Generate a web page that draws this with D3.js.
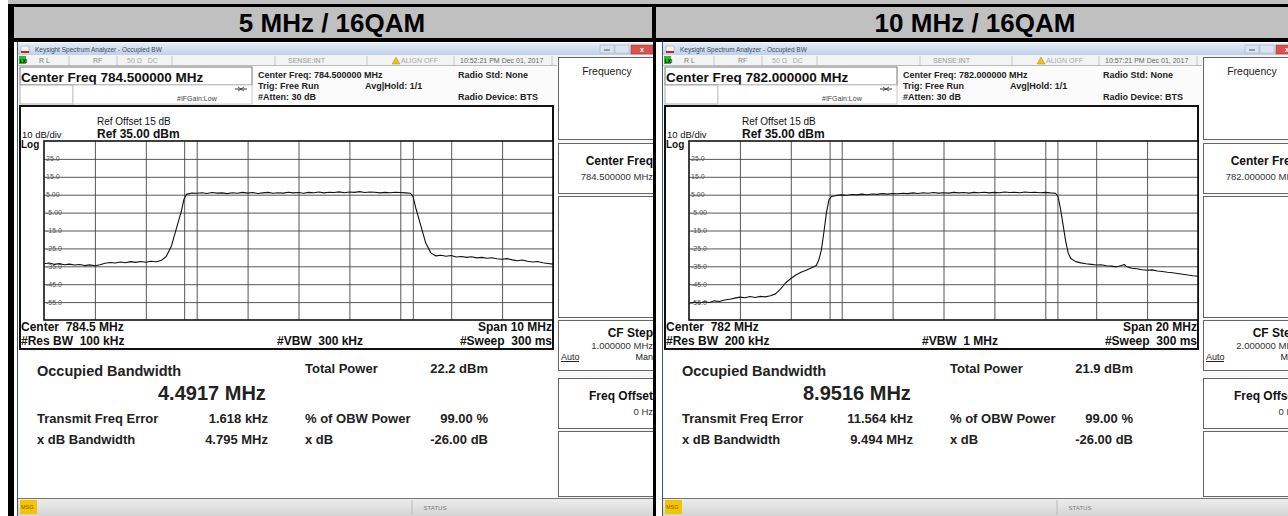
<!DOCTYPE html>
<html lang="en">
<head>
<meta charset="utf-8">
<title>Occupied BW - 16QAM</title>
<script src="https://d3js.org/d3.v7.min.js"></script>
<style>
  body { margin: 0; background: #fff; }
  svg { display: block; }
  svg text { white-space: pre; }
</style>
</head>
<body>
<script>
const panelTitles = ["5 MHz / 16QAM", "10 MHz / 16QAM"];
const centerFreqMHz = [784.5, 782.0];
const spanMHz = [10, 20];
const obwMHz = [4.4917, 8.9516];
const resBw = ["100 kHz", "200 kHz"];
const vbw = ["300 kHz", "1 MHz"];
const cfStep = ["1.000000 MHz", "2.000000 MHz"];
const totalPower = ["22.2 dBm", "21.9 dBm"];
const freqError = ["1.618 kHz", "11.564 kHz"];
const xdbBandwidth = ["4.795 MHz", "9.494 MHz"];
const timestamps = ["10:52:21 PM Dec 01, 2017", "10:57:21 PM Dec 01, 2017"];

const refLevel = 35, dbPerDiv = 10;
const yTicks = [25, 15, 5, -5, -15, -25, -35, -45, -55];
const yTickLabels = ["25.0", "15.0", "5.00", "-5.00", "-15.0", "-25.0", "-35.0", "-45.0", "-55.0"];

// 5 MHz trace (MHz, dBm)
const traceFreq5 = [779.5, 779.6, 779.7, 779.8, 779.9, 780.0, 780.1, 780.2, 780.3, 780.4, 780.5, 780.6, 780.7, 780.8, 780.9,
  781.0, 781.1, 781.2, 781.3, 781.4, 781.5, 781.6, 781.7, 781.8, 781.9, 782.0, 782.1, 782.2, 782.25, 782.3, 782.4,
  782.5, 782.6, 782.7, 782.8, 782.9, 783.0, 783.1, 783.2, 783.3, 783.4, 783.5, 783.6, 783.7, 783.8, 783.9,
  784.0, 784.1, 784.2, 784.3, 784.4, 784.5, 784.6, 784.7, 784.8, 784.9, 785.0, 785.1, 785.2, 785.3, 785.4,
  785.5, 785.6, 785.7, 785.8, 785.9, 786.0, 786.1, 786.2, 786.3, 786.4, 786.5, 786.6, 786.7, 786.75, 786.8,
  786.9, 787.0, 787.1, 787.2, 787.3, 787.4, 787.5, 787.6, 787.7, 787.8, 787.9, 788.0, 788.1, 788.2, 788.3,
  788.4, 788.5, 788.6, 788.7, 788.8, 788.9, 789.0, 789.1, 789.2, 789.3, 789.4, 789.5];
const traceLevel5 = [-33.6, -33.2, -33.9, -33.5, -34.1, -33.8, -34.3, -34.0, -34.6, -34.2, -34.7, -34.1, -33.3, -32.9, -33.2,
  -32.6, -33.0, -32.4, -32.8, -32.3, -32.7, -32.2, -32.5, -31.8, -29.5, -24.0, -14.0, -4.0, 2.5, 5.2, 5.9,
  5.8, 6.1, 5.7, 6.2, 5.9, 6.0, 5.6, 6.1, 5.8, 6.3, 5.9, 6.2, 5.7, 6.0, 6.3,
  5.8, 6.1, 5.9, 6.4, 6.0, 6.2, 5.8, 6.3, 6.1, 6.5, 6.0, 6.4, 6.2, 6.6, 6.1,
  6.5, 6.3, 6.7, 6.2, 6.5, 6.4, 6.0, 6.3, 6.1, 6.4, 6.2, 6.0, 5.8, 4.0, -2.0,
  -12.0, -22.0, -27.5, -29.2, -28.8, -29.4, -29.0, -29.8, -29.5, -30.0, -29.7, -30.3, -30.0, -30.5, -30.2,
  -30.8, -31.1, -30.7, -31.4, -31.9, -31.5, -32.2, -32.6, -32.3, -33.0, -33.4, -33.8];

// 10 MHz trace (MHz, dBm)
const traceFreq10 = [772.0, 772.2, 772.4, 772.6, 772.8, 773.0, 773.2, 773.4, 773.6, 773.8, 774.0, 774.2, 774.4, 774.6, 774.8,
  775.0, 775.2, 775.4, 775.6, 775.8, 776.0, 776.2, 776.4, 776.6, 776.8, 777.0, 777.1, 777.2, 777.3, 777.4, 777.5, 777.6,
  777.8, 778.0, 778.2, 778.4, 778.6, 778.8, 779.0, 779.2, 779.4, 779.6, 779.8, 780.0, 780.2, 780.4, 780.6, 780.8,
  781.0, 781.2, 781.4, 781.6, 781.8, 782.0, 782.2, 782.4, 782.6, 782.8, 783.0, 783.2, 783.4, 783.6, 783.8,
  784.0, 784.2, 784.4, 784.6, 784.8, 785.0, 785.2, 785.4, 785.6, 785.8, 786.0, 786.2, 786.4, 786.5, 786.6, 786.7,
  786.8, 786.9, 787.0, 787.2, 787.4, 787.6, 787.8, 788.0, 788.2, 788.4, 788.6, 788.8, 789.0, 789.1, 789.2, 789.4,
  789.6, 789.8, 790.0, 790.2, 790.4, 790.6, 790.8, 791.0, 791.2, 791.4, 791.6, 791.8, 792.0];
const traceLevel10 = [-55.6, -55.1, -55.5, -54.8, -55.2, -54.3, -54.7, -53.8, -53.4, -52.8, -52.2, -52.6, -51.9, -52.4, -51.8,
  -52.1, -51.5, -50.4, -47.6, -44.2, -41.8, -39.9, -38.3, -37.2, -36.0, -34.6, -31.5, -26.0, -16.0, -5.0, 2.2, 4.0,
  4.6, 4.9, 4.7, 5.1, 4.9, 5.3, 5.0, 5.4, 5.2, 5.6, 5.3, 5.7, 5.5, 5.8, 5.6, 6.0,
  5.7, 6.1, 5.8, 6.2, 5.9, 6.1, 5.9, 6.3, 6.0, 6.2, 5.9, 6.3, 6.1, 6.4, 6.0,
  6.3, 6.1, 6.5, 6.2, 6.4, 6.1, 6.5, 6.2, 6.4, 6.1, 6.3, 6.0, 5.8, 4.0, -3.0, -12.0,
  -21.0, -27.5, -30.6, -32.4, -33.1, -33.6, -33.9, -34.3, -34.1, -34.7, -34.9, -35.3, -34.6, -34.0, -35.2, -36.1,
  -36.4, -36.9, -37.2, -37.0, -37.6, -37.9, -38.3, -38.6, -39.0, -39.4, -39.9, -40.3, -40.6];

const traceFreqs = [traceFreq5, traceFreq10];
const traceLevels = [traceLevel5, traceLevel10];

// ---- layout ----
const W = 1288, H = 516;
const FONT = "'Liberation Sans', Arial, sans-serif";
const panelX = [17, 662];
const panelW = 636;
const grid = {left: 27, right: 536, top: 141, bottom: 320};

const svg = d3.select("body").append("svg")
    .attr("width", W)
    .attr("height", H)
    .attr("xml:space", "preserve")
    .style("font-family", FONT);

svg.append("rect").attr("width", W).attr("height", H).attr("fill", "#fff");

const defs = svg.append("defs");
const tb = defs.append("linearGradient").attr("id", "titlebar").attr("x1", 0).attr("x2", 0).attr("y1", 0).attr("y2", 1);
tb.append("stop").attr("offset", 0).attr("stop-color", "#e4edf8");
tb.append("stop").attr("offset", 1).attr("stop-color", "#bfd1e8");
const sb = defs.append("linearGradient").attr("id", "statusbar").attr("x1", 0).attr("x2", 0).attr("y1", 0).attr("y2", 1);
sb.append("stop").attr("offset", 0).attr("stop-color", "#eeeeee");
sb.append("stop").attr("offset", 1).attr("stop-color", "#d4d4d4");

// table frame
svg.append("rect").attr("x", 8).attr("y", 0).attr("width", W - 8).attr("height", 40).attr("fill", "#c0c0c0");
svg.append("rect").attr("x", 8).attr("y", 4).attr("width", W - 8).attr("height", 3).attr("fill", "#000");
svg.append("rect").attr("x", 8).attr("y", 38).attr("width", W - 8).attr("height", 4).attr("fill", "#000");
svg.append("rect").attr("x", 8).attr("y", 4).attr("width", 6).attr("height", H - 4).attr("fill", "#000");
svg.append("rect").attr("x", 652).attr("y", 4).attr("width", 4).attr("height", H - 4).attr("fill", "#000");

svg.selectAll("text.head")
  .data(panelTitles)
  .enter().append("text")
    .attr("class", "head")
    .attr("x", (d, i) => [332, 975][i])
    .attr("y", 32)
    .attr("text-anchor", "middle")
    .attr("font-size", 26)
    .attr("font-weight", "bold")
    .attr("fill", "#000")
    .text(d => d);

function txt(g, x, y, s, size, opt) {
  opt = opt || {};
  return g.append("text")
    .attr("x", x).attr("y", y)
    .attr("font-size", size)
    .attr("font-weight", opt.bold ? "bold" : "normal")
    .attr("text-anchor", opt.anchor || "start")
    .attr("fill", opt.fill || "#111")
    .text(s);
}

function drawPanel(i) {
  const cf = centerFreqMHz[i], span = spanMHz[i];
  const fmtCf = d3.format(".6f");

  defs.append("clipPath").attr("id", "clip" + i)
    .append("rect").attr("x", 0).attr("y", 42).attr("width", panelW).attr("height", H - 42);

  const g = svg.append("g")
      .attr("transform", "translate(" + panelX[i] + ",0)")
      .attr("clip-path", "url(#clip" + i + ")");

  g.append("rect").attr("x", 0).attr("y", 42).attr("width", panelW).attr("height", H - 42).attr("fill", "#fbfbfb");
  g.append("line").attr("x1", 0.5).attr("x2", 0.5).attr("y1", 42).attr("y2", H).attr("stroke", "#3d5475").attr("stroke-width", 1);

  // window title bar
  g.append("rect").attr("x", 1).attr("y", 43).attr("width", panelW).attr("height", 12).attr("fill", "url(#titlebar)");
  g.append("rect").attr("x", 4).attr("y", 46).attr("width", 8).attr("height", 6).attr("fill", "#f4f4f4").attr("stroke", "#999").attr("stroke-width", 0.5);
  g.append("rect").attr("x", 4).attr("y", 51).attr("width", 8).attr("height", 2).attr("fill", "#d02020");
  txt(g, 18, 52, "Keysight Spectrum Analyzer - Occupied BW", 6.5, {fill: "#3a4a60"});
  g.append("rect").attr("x", 583).attr("y", 45).attr("width", 14).attr("height", 8).attr("fill", "#dbe5f2").attr("stroke", "#9aaac0").attr("stroke-width", 0.5);
  g.append("rect").attr("x", 598).attr("y", 45).attr("width", 14).attr("height", 8).attr("fill", "#dbe5f2").attr("stroke", "#9aaac0").attr("stroke-width", 0.5);
  g.append("rect").attr("x", 614).attr("y", 45).attr("width", 22).attr("height", 9).attr("fill", "#d9534a").attr("stroke", "#a03028").attr("stroke-width", 0.5);
  txt(g, 625, 52, "x", 7, {anchor: "middle", fill: "#fff", bold: true});
  g.append("line").attr("x1", 587).attr("x2", 593).attr("y1", 50).attr("y2", 50).attr("stroke", "#555");

  // status row
  g.append("rect").attr("x", 1).attr("y", 55).attr("width", panelW).attr("height", 10).attr("fill", "#f3f3f3");
  g.append("rect").attr("x", 2).attr("y", 56).attr("width", 7).attr("height", 8).attr("fill", "#22c022");
  txt(g, 3, 63, "LXI", 4.5, {fill: "#000", bold: true});
  [52, 100, 155, 258, 350, 437, 535].forEach(function(sx) {
    g.append("line").attr("x1", sx).attr("x2", sx).attr("y1", 56).attr("y2", 65).attr("stroke", "#c8c8c8");
  });
  txt(g, 22, 63, "R L", 7, {fill: "#777"});
  txt(g, 76, 63, "RF", 7, {fill: "#888"});
  txt(g, 110, 63, "50 \u03A9   DC", 7, {fill: "#aaa"});
  txt(g, 271, 63, "SENSE:INT", 7, {fill: "#999"});
  g.append("path").attr("d", "M375,64 L379,57 L383,64 Z").attr("fill", "#e8c020").attr("stroke", "#a08000").attr("stroke-width", 0.4);
  txt(g, 384, 63, "ALIGN OFF", 7, {fill: "#aaa"});
  txt(g, 443, 63, timestamps[i], 7, {fill: "#666"});
  g.append("line").attr("x1", 1).attr("x2", 540).attr("y1", 65.5).attr("y2", 65.5).attr("stroke", "#bbb");

  // top settings block
  g.append("rect").attr("x", 3).attr("y", 67).attr("width", 232).attr("height", 18).attr("fill", "#fff").attr("stroke", "#777");
  txt(g, 4, 82, "Center Freq " + fmtCf(cf) + " MHz", 13.5, {bold: true, fill: "#111"});
  g.append("rect").attr("x", 3).attr("y", 85).attr("width", 53).attr("height", 19).attr("fill", "#fff").attr("stroke", "#aaa");
  g.append("rect").attr("x", 56).attr("y", 85).attr("width", 179).attr("height", 19).attr("fill", "#fff").attr("stroke", "#ccc");
  txt(g, 160, 101, "#IFGain:Low", 7, {fill: "#444"});
  g.append("line").attr("x1", 218).attr("x2", 230).attr("y1", 89).attr("y2", 89).attr("stroke", "#333");
  g.append("path").attr("d", "M221,87 L224,89 L221,91 M227,87 L224,89 L227,91").attr("fill", "none").attr("stroke", "#333").attr("stroke-width", 0.8);
  txt(g, 241, 78, "Center Freq: " + fmtCf(cf) + " MHz", 9, {bold: true, fill: "#222"});
  txt(g, 241, 89, "Trig: Free Run", 9, {bold: true, fill: "#222"});
  txt(g, 348, 89, "Avg|Hold: 1/1", 9, {bold: true, fill: "#222"});
  txt(g, 241, 100, "#Atten: 30 dB", 9, {bold: true, fill: "#222"});
  txt(g, 441, 78, "Radio Std: None", 9, {bold: true, fill: "#222"});
  txt(g, 441, 100, "Radio Device: BTS", 9, {bold: true, fill: "#222"});

  // soft key panel
  g.append("rect").attr("x", 541).attr("y", 57).attr("width", 100).attr("height", 441).attr("fill", "#f7f7f7");
  const keys = [[57, 139], [143, 193], [196, 317], [320, 370], [378, 428], [431, 496]];
  keys.forEach(function(k) {
    g.append("rect").attr("x", 541.5).attr("y", k[0] + 0.5).attr("width", 100).attr("height", k[1] - k[0])
      .attr("fill", "#fff").attr("stroke", "#666").attr("stroke-width", 1);
  });
  txt(g, 590, 75, "Frequency", 10.5, {anchor: "middle", fill: "#222"});
  txt(g, 636, 165, "Center Freq", 12, {anchor: "end", bold: true});
  txt(g, 636, 180, fmtCf(cf) + " MHz", 9.5, {anchor: "end", fill: "#333"});
  txt(g, 636, 337, "CF Step", 12, {anchor: "end", bold: true});
  txt(g, 636, 349, cfStep[i], 9.5, {anchor: "end", fill: "#333"});
  txt(g, 544, 360, "Auto", 9, {fill: "#222"});
  g.append("line").attr("x1", 544).attr("x2", 562).attr("y1", 361.5).attr("y2", 361.5).attr("stroke", "#222");
  txt(g, 636, 360, "Man", 9, {anchor: "end", fill: "#222"});
  txt(g, 636, 400, "Freq Offset", 12, {anchor: "end", bold: true});
  txt(g, 636, 415, "0 Hz", 9.5, {anchor: "end", fill: "#333"});

  // plot area
  g.append("rect").attr("x", 3).attr("y", 106).attr("width", 533).attr("height", 243)
    .attr("fill", "#fff").attr("stroke", "#111").attr("stroke-width", 2);
  txt(g, 80, 125, "Ref Offset 15 dB", 10, {fill: "#111"});
  txt(g, 5, 138, "10 dB/div", 9.5, {fill: "#111"});
  txt(g, 80, 138, "Ref " + refLevel.toFixed(2) + " dBm", 12, {bold: true});
  txt(g, 4, 148, "Log", 10, {bold: true});

  const x = d3.scaleLinear().domain([cf - span / 2, cf + span / 2]).range([grid.left, grid.right]);
  const y = d3.scaleLinear().domain([refLevel - 10 * dbPerDiv, refLevel]).range([grid.bottom, grid.top]);

  const plot = g.append("g");
  plot.append("rect").attr("x", grid.left).attr("y", grid.top)
    .attr("width", grid.right - grid.left).attr("height", grid.bottom - grid.top).attr("fill", "#fff");

  // grid: 10 divisions each way, plus the two OBW marker lines
  const vLines = d3.range(1, 10).map(k => cf - span / 2 + k * span / 10)
    .concat([cf - obwMHz[i] / 2, cf + obwMHz[i] / 2]);
  plot.append("g")
    .attr("transform", "translate(0," + grid.bottom + ")")
    .call(d3.axisBottom(x).tickValues(vLines).tickSize(-(grid.bottom - grid.top)).tickFormat(""))
    .call(a => a.select(".domain").remove())
    .call(a => a.selectAll("line").attr("stroke", "#444").attr("stroke-width", 0.9));
  plot.append("g")
    .attr("transform", "translate(" + grid.left + ",0)")
    .call(d3.axisRight(y).tickValues(yTicks).tickSize(grid.right - grid.left).tickFormat(""))
    .call(a => a.select(".domain").remove())
    .call(a => a.selectAll("line").attr("stroke", "#444").attr("stroke-width", 0.9));

  plot.selectAll("text.ylab")
    .data(yTicks)
    .enter().append("text")
      .attr("class", "ylab")
      .attr("x", grid.left + 2)
      .attr("y", d => y(d) + 2.5)
      .attr("font-size", 7)
      .attr("fill", "#555")
      .text((d, k) => yTickLabels[k]);

  const pts = traceFreqs[i].map((f, k) => [f, traceLevels[i][k]]);
  const line = d3.line().x(d => x(d[0])).y(d => y(d[1]));
  plot.append("path")
    .datum(pts)
    .attr("d", line)
    .attr("fill", "none")
    .attr("stroke", "#111")
    .attr("stroke-width", 1.1)
    .attr("stroke-linejoin", "round");

  plot.append("rect").attr("x", grid.left).attr("y", grid.top)
    .attr("width", grid.right - grid.left).attr("height", grid.bottom - grid.top)
    .attr("fill", "none").attr("stroke", "#111").attr("stroke-width", 1.6);

  txt(g, 4, 331, "Center  " + d3.format("~f")(cf) + " MHz", 12, {bold: true});
  txt(g, 4, 345, "#Res BW  " + resBw[i], 12, {bold: true});
  txt(g, 260, 345, "#VBW  " + vbw[i], 12, {bold: true});
  txt(g, 535, 331, "Span " + span + " MHz", 12, {anchor: "end", bold: true});
  txt(g, 535, 345, "#Sweep  300 ms", 12, {anchor: "end", bold: true});

  // results
  g.append("rect").attr("x", 2).attr("y", 352).attr("width", 537).attr("height", 145).attr("fill", "#fff");
  txt(g, 20, 376, "Occupied Bandwidth", 14.5, {bold: true, fill: "#222"});
  txt(g, 141, 400, d3.format(".4f")(obwMHz[i]) + " MHz", 20, {bold: true, fill: "#222"});
  txt(g, 288, 373, "Total Power", 13, {bold: true, fill: "#222"});
  txt(g, 471, 373, totalPower[i], 13, {anchor: "end", bold: true, fill: "#222"});
  txt(g, 20, 423, "Transmit Freq Error", 13, {bold: true, fill: "#222"});
  txt(g, 251, 423, freqError[i], 13, {anchor: "end", bold: true, fill: "#222"});
  txt(g, 288, 423, "% of OBW Power", 13, {bold: true, fill: "#222"});
  txt(g, 471, 423, "99.00 %", 13, {anchor: "end", bold: true, fill: "#222"});
  txt(g, 20, 444, "x dB Bandwidth", 13, {bold: true, fill: "#222"});
  txt(g, 251, 444, xdbBandwidth[i], 13, {anchor: "end", bold: true, fill: "#222"});
  txt(g, 288, 444, "x dB", 13, {bold: true, fill: "#222"});
  txt(g, 471, 444, "-26.00 dB", 13, {anchor: "end", bold: true, fill: "#222"});

  // bottom status bar
  g.append("rect").attr("x", 1).attr("y", 498).attr("width", panelW).attr("height", 18).attr("fill", "url(#statusbar)");
  g.append("line").attr("x1", 1).attr("x2", panelW).attr("y1", 498.5).attr("y2", 498.5).attr("stroke", "#777");
  g.append("rect").attr("x", 3).attr("y", 500).attr("width", 17).attr("height", 14).attr("fill", "#f5c400");
  txt(g, 4, 509, "MSG", 5.5, {fill: "#8a5a00"});
  g.append("line").attr("x1", 395).attr("x2", 395).attr("y1", 500).attr("y2", 515).attr("stroke", "#bbb");
  txt(g, 418, 510, "STATUS", 6, {anchor: "middle", fill: "#777"});
}

panelTitles.forEach((t, i) => drawPanel(i));
</script>
</body>
</html>
